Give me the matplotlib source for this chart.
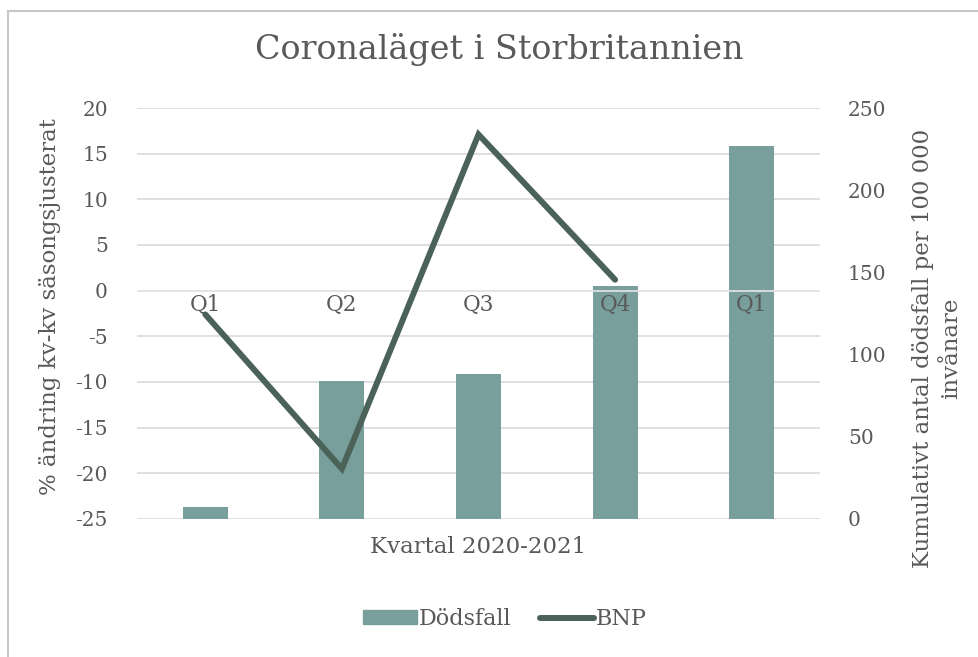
import numpy as np
import matplotlib
matplotlib.use("Agg")
import matplotlib.pyplot as plt
from matplotlib.lines import Line2D

quarters = ["Q1", "Q2", "Q3", "Q4", "Q1"]
deaths = [7.5, 84, 88, 142, 227]          # right axis
gdp = [-2.6, -19.5, 17.1, 1.2, np.nan]    # left axis

bar_color = "#789f9b"
line_color = "#4b6259"
text_color = "#595959"
grid_color = "#d9d9d9"

plt.rcParams["font.family"] = ["DejaVu Serif"]
plt.rcParams["axes.unicode_minus"] = False

W, H = 979, 657
fig = plt.figure(figsize=(W / 100, H / 100), dpi=100)
ax = fig.add_axes([137 / W, 1 - 519 / H, 683 / W, 411 / H])
ax2 = ax.twinx()

x = np.arange(len(quarters))

# left axis: GDP scale, gridlines
ax.set_ylim(-25, 20)
ax.set_yticks(np.arange(-25, 21, 5))
ax.set_xlim(-0.5, len(quarters) - 0.5)
ax.grid(axis="y", color=grid_color, linewidth=1.2)
ax.set_axisbelow(True)
for s in ax.spines.values():
    s.set_visible(False)
ax.tick_params(axis="y", length=0, labelsize=14.5, colors=text_color, pad=21)
ax.set_xticks([])

# right axis: deaths bars
ax2.set_ylim(0, 250)
ax2.set_yticks(np.arange(0, 251, 50))
ax2.bar(x, deaths, width=0.33, color=bar_color, zorder=1)
for s in ax2.spines.values():
    s.set_visible(False)
ax2.tick_params(axis="y", length=0, labelsize=14.5, colors=text_color, pad=20)

# horizontal axis at zero on the left scale, drawn over the bars
zero_right = (0 - (-25)) / 45 * 250
ax2.axhline(zero_right, color="#e6e6e6", linewidth=1.2, zorder=2)

# category labels sit just below the zero line
for xi, q in zip(x, quarters):
    ax2.text(xi, zero_right - 2.3, q, ha="center", va="top", fontsize=15.5,
             color=text_color, zorder=3)

# GDP line on top of everything
line_ax = ax.twinx()
line_ax.set_ylim(-25, 20)
line_ax.axis("off")
line_ax.plot(x, gdp, color=line_color, linewidth=4.3, solid_capstyle="round",
             solid_joinstyle="miter", zorder=5)

# axis titles
fig.text(50 / W, 1 - 307 / H, "% ändring kv-kv säsongsjusterat", rotation=90,
         ha="center", va="center", fontsize=16.5, color=text_color)
fig.text(937 / W, 1 - 348 / H, "Kumulativt antal dödsfall per 100 000\ninvånare",
         rotation=90, ha="center", va="center", multialignment="center",
         fontsize=16.5, color=text_color, linespacing=1.4)
fig.text(478 / W, 1 - 547 / H, "Kvartal 2020-2021", ha="center", va="center",
         fontsize=16.5, color=text_color)

fig.text(499 / W, 1 - 50 / H, "Coronaläget i Storbritannien", ha="center",
         va="center", fontsize=24, color=text_color)

handles = [plt.Rectangle((0, 0), 1, 1, color=bar_color),
           Line2D([], [], color=line_color, linewidth=4.3, solid_capstyle="round")]
fig.legend(handles, ["Dödsfall", "BNP"], loc="center", bbox_to_anchor=(505 / W, 1 - 619 / H),
           ncol=2, frameon=False, fontsize=16, labelcolor=text_color,
           handlelength=2.4, handleheight=0.6, handletextpad=0.1, columnspacing=1.3)

# chart border (top and left edges visible)
fig.add_artist(Line2D([8 / W, 8 / W], [0, 1 - 11 / H], transform=fig.transFigure,
                      color="#c8c8c8", linewidth=1.5))
fig.add_artist(Line2D([8 / W, 1], [1 - 11 / H, 1 - 11 / H], transform=fig.transFigure,
                      color="#c8c8c8", linewidth=1.5))

fig.savefig("out.png", dpi=100, facecolor="white")
